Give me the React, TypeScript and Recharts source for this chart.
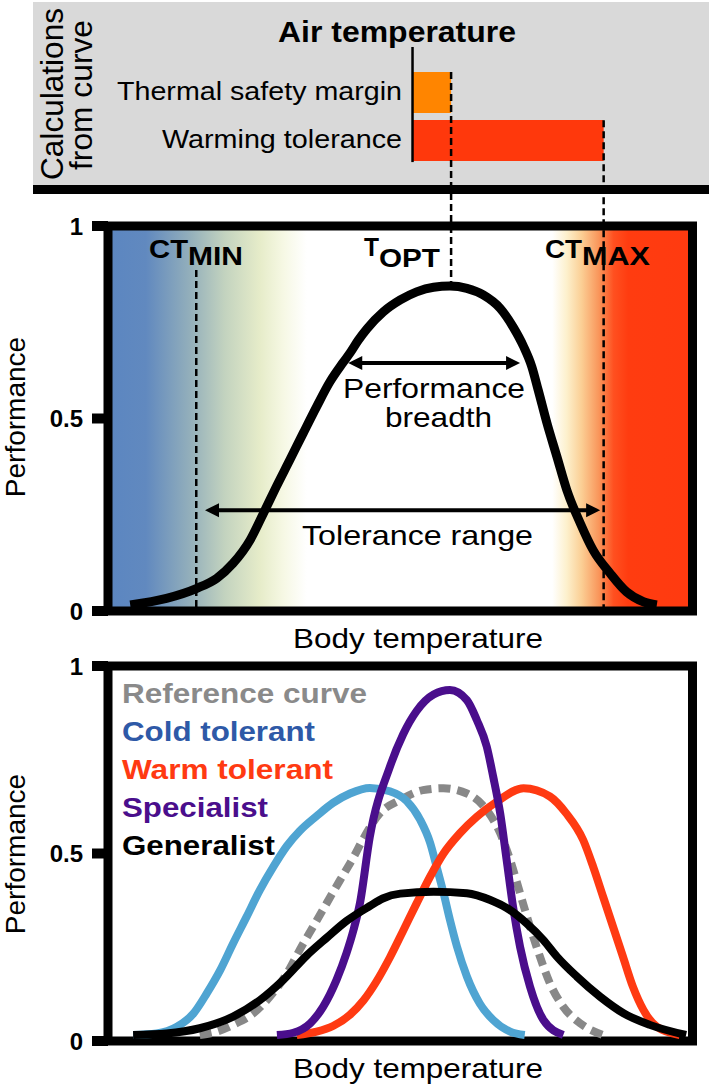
import React from 'react';
import {
  BarChart,
  Bar,
  Cell,
  ComposedChart,
  Line,
  XAxis,
  YAxis,
  ReferenceArea,
  ReferenceLine,
} from 'recharts';

const FONT = '"Liberation Sans", Arial, Helvetica, sans-serif';

// shared body-temperature axis (arbitrary units 0-100)
const CT_MIN = 15.1;
const T_OPT = 58.7;
const CT_MAX = 84.8;
const AIR_TEMP = 52.1;

// top panel: calculations from curve
const calcNames = ['Thermal safety margin', 'Warming tolerance'];
const calcEnds = [T_OPT, CT_MAX];
const calcColors = ['#ff8500', '#ff380c'];

// middle panel: thermal performance curve
const tpcTemp = [3.8, 10.0, 15.2, 18.6, 21.4, 24.3, 26.6, 28.8, 31.1, 33.4, 35.7, 38.0, 40.2, 41.4, 42.8, 44.3, 47.1, 50.0, 52.8, 55.7, 58.5, 61.4, 64.2, 67.1, 69.3, 71.1, 72.5, 73.6, 75.1, 76.8, 78.5, 80.8, 83.0, 85.9, 88.7, 91.6, 93.9];
const tpcPerf = [0.016, 0.033, 0.059, 0.085, 0.124, 0.184, 0.254, 0.323, 0.392, 0.462, 0.531, 0.596, 0.645, 0.67, 0.703, 0.733, 0.777, 0.808, 0.829, 0.841, 0.844, 0.838, 0.821, 0.786, 0.738, 0.687, 0.635, 0.574, 0.488, 0.401, 0.314, 0.228, 0.158, 0.098, 0.05, 0.024, 0.016];

// bottom panel: curve types
const refTemp = [15.7, 18.6, 21.4, 24.9, 27.7, 30.6, 32.8, 35.1, 37.4, 39.7, 42.0, 43.7, 46.5, 50.0, 53.9, 57.4, 61.4, 64.8, 67.1, 68.8, 70.5, 72.2, 73.9, 75.6, 77.9, 80.8, 84.7];
const refPerf = [0.016, 0.025, 0.043, 0.074, 0.118, 0.18, 0.243, 0.305, 0.367, 0.429, 0.49, 0.54, 0.607, 0.643, 0.669, 0.674, 0.66, 0.616, 0.554, 0.483, 0.394, 0.305, 0.225, 0.154, 0.091, 0.047, 0.016];

const coldTemp = [4.3, 8.3, 11.8, 14.6, 16.9, 19.2, 21.4, 23.7, 26.0, 28.3, 30.6, 32.8, 35.7, 38.5, 41.4, 44.8, 48.2, 51.1, 53.4, 55.1, 56.2, 57.4, 58.5, 59.7, 61.4, 63.6, 65.9, 68.8, 71.3];
const coldPerf = [0.016, 0.02, 0.038, 0.073, 0.127, 0.189, 0.26, 0.331, 0.403, 0.465, 0.52, 0.56, 0.6, 0.635, 0.66, 0.675, 0.666, 0.64, 0.59, 0.529, 0.466, 0.395, 0.323, 0.252, 0.172, 0.1, 0.056, 0.025, 0.016];

const warmTemp = [32.3, 35.7, 38.5, 41.4, 43.7, 45.9, 48.2, 50.5, 52.8, 55.1, 57.4, 60.2, 63.1, 66.5, 71.1, 75.6, 78.4, 81.3, 83.0, 84.7, 86.4, 88.1, 89.8, 91.6, 93.9, 97.8];
const warmPerf = [0.016, 0.025, 0.04, 0.07, 0.108, 0.158, 0.222, 0.294, 0.367, 0.438, 0.5, 0.554, 0.598, 0.638, 0.674, 0.652, 0.607, 0.536, 0.465, 0.385, 0.305, 0.225, 0.145, 0.083, 0.038, 0.016];

const specTemp = [28.9, 31.7, 34.6, 36.8, 39.1, 40.8, 42.0, 43.1, 44.8, 48.2, 50.5, 52.8, 55.7, 58.5, 61.4, 63.1, 64.8, 65.9, 67.1, 68.2, 69.3, 70.5, 72.2, 74.5, 77.9];
const specPerf = [0.016, 0.022, 0.047, 0.091, 0.163, 0.234, 0.296, 0.367, 0.545, 0.73, 0.818, 0.88, 0.924, 0.936, 0.909, 0.856, 0.785, 0.705, 0.607, 0.483, 0.358, 0.251, 0.145, 0.056, 0.016];

const genTemp = [4.3, 10.0, 15.7, 21.4, 26.0, 30.0, 34.0, 37.4, 40.8, 44.8, 47.0, 50.0, 55.7, 61.4, 65.4, 68.8, 71.6, 74.5, 76.8, 80.2, 84.2, 88.2, 92.7, 98.9];
const genPerf = [0.016, 0.02, 0.034, 0.065, 0.109, 0.163, 0.228, 0.275, 0.32, 0.36, 0.38, 0.393, 0.398, 0.394, 0.376, 0.349, 0.314, 0.269, 0.225, 0.172, 0.118, 0.074, 0.043, 0.016];

const toPoints = (temp: number[], perf: number[]) => temp.map((t, i) => ({ t, p: perf[i] }));

const calcData = calcNames.map((name, i) => ({ name, span: [AIR_TEMP, calcEnds[i]] }));
const tpcData = toPoints(tpcTemp, tpcPerf);

const curveSeries = [
  { name: 'Reference curve', data: toPoints(refTemp, refPerf), stroke: '#888888', text: '#8a8a8a', dash: '12 7' },
  { name: 'Cold tolerant', data: toPoints(coldTemp, coldPerf), stroke: '#4fa4d2', text: '#2e59a7', dash: undefined },
  { name: 'Warm tolerant', data: toPoints(warmTemp, warmPerf), stroke: '#ff3a12', text: '#ff3a12', dash: undefined },
  { name: 'Specialist', data: toPoints(specTemp, specPerf), stroke: '#4a0e8c', text: '#4a0e8c', dash: undefined },
  { name: 'Generalist', data: toPoints(genTemp, genPerf), stroke: '#000000', text: '#000000', dash: undefined },
];
const legendWidths = [245, 193, 211, 146, 153];

interface TxtProps {
  x: number;
  y: number;
  w?: number;
  size?: number;
  bold?: boolean;
  fill?: string;
  anchor?: 'start' | 'middle' | 'end';
  rotate?: boolean;
  children: React.ReactNode;
}

const Txt = ({ x, y, w, size = 28, bold = false, fill = '#000', anchor = 'start', rotate = false, children }: TxtProps) => (
  <text
    x={rotate ? 0 : x}
    y={rotate ? 0 : y}
    transform={rotate ? `translate(${x},${y}) rotate(-90)` : undefined}
    fontSize={size}
    fontWeight={bold ? 'bold' : 'normal'}
    fill={fill}
    textAnchor={anchor}
    fontFamily={FONT}
    textLength={w}
    lengthAdjust={w ? 'spacingAndGlyphs' : undefined}
  >
    {children}
  </text>
);

const DoubleArrow = (props: any) => {
  const { x1, y1, x2, y2 } = props;
  const head = 14;
  const half = 7;
  return (
    <g>
      <line x1={x1 + head - 1} y1={y1} x2={x2 - head + 1} y2={y2} stroke="#000" strokeWidth={4} />
      <polygon points={`${x1},${y1} ${x1 + head},${y1 - half} ${x1 + head},${y1 + half}`} fill="#000" />
      <polygon points={`${x2},${y2} ${x2 - head},${y2 - half} ${x2 - head},${y2 + half}`} fill="#000" />
    </g>
  );
};

const perfAxis = (
  <YAxis
    type="number"
    domain={[0, 1]}
    ticks={[0, 0.5, 1]}
    interval={0}
    width={100}
    axisLine={false}
    tickLine={{ stroke: '#000', strokeWidth: 10 }}
    tickSize={16}
    tickMargin={9}
    tick={{ fontSize: 24, fontWeight: 'bold', fill: '#000', fontFamily: FONT }}
  />
);

const dashed = { stroke: '#000', strokeWidth: 2.5, strokeDasharray: '7 4', ifOverflow: 'visible' as const };

const BOTTOM_TOP = 620;

export default function App() {
  return (
    <div style={{ position: 'absolute', left: 0, top: 0, width: 709, height: 1087, background: '#fff' }}>
      <div style={{ position: 'absolute', left: 33, top: 2, width: 676, height: 183, background: '#d9d9d9' }} />
      <div style={{ position: 'absolute', left: 33, top: 185, width: 676, height: 9, background: '#000' }} />

      {/* top panel */}
      <div style={{ position: 'absolute', left: 0, top: 0 }}>
        <BarChart
          width={709}
          height={195}
          layout="vertical"
          data={calcData}
          margin={{ top: 68, right: 16.5, bottom: 31, left: 108 }}
        >
          <XAxis type="number" domain={[0, 100]} hide />
          <YAxis type="category" dataKey="name" hide />
          <Bar dataKey="span" barSize={41} isAnimationActive={false}>
            {calcData.map((entry, index) => (
              <Cell key={`cell-${index}`} fill={calcColors[index]} />
            ))}
          </Bar>
        </BarChart>
      </div>

      {/* middle panel */}
      <div style={{ position: 'absolute', left: 0, top: 0 }}>
        <ComposedChart width={709} height={660} data={tpcData} margin={{ top: 226, right: 16.5, bottom: 49, left: 8 }}>
          <defs>
            <linearGradient id="thermalBg" x1="0" y1="0" x2="1" y2="0">
              <stop offset="0" stopColor="#5b86c1" />
              <stop offset="0.065" stopColor="#6189bf" />
              <stop offset="0.14" stopColor="#93afbb" />
              <stop offset="0.2" stopColor="#c3d3bf" />
              <stop offset="0.26" stopColor="#e6ecc9" />
              <stop offset="0.3" stopColor="#f6f8e4" />
              <stop offset="0.34" stopColor="#ffffff" />
              <stop offset="0.76" stopColor="#ffffff" />
              <stop offset="0.785" stopColor="#fdf0cc" />
              <stop offset="0.81" stopColor="#fbcf95" />
              <stop offset="0.84" stopColor="#f9955a" />
              <stop offset="0.865" stopColor="#ff5020" />
              <stop offset="0.89" stopColor="#ff3c10" />
              <stop offset="1" stopColor="#ff3a10" />
            </linearGradient>
          </defs>
          <XAxis type="number" dataKey="t" domain={[0, 100]} hide />
          {perfAxis}
          <ReferenceArea x1={0} x2={100} y1={0} y2={1} fill="url(#thermalBg)" fillOpacity={1} stroke="#000" strokeWidth={9} />
          <ReferenceLine segment={[{ x: AIR_TEMP, y: 1.465 }, { x: AIR_TEMP, y: 1.166 }]} stroke="#000" strokeWidth={2.5} ifOverflow="visible" />
          <ReferenceLine segment={[{ x: CT_MIN, y: 0.886 }, { x: CT_MIN, y: 0 }]} {...dashed} />
          <ReferenceLine segment={[{ x: T_OPT, y: 1.4 }, { x: T_OPT, y: 0.85 }]} {...dashed} />
          <ReferenceLine segment={[{ x: CT_MAX, y: 1.275 }, { x: CT_MAX, y: 0 }]} {...dashed} />
          <ReferenceLine segment={[{ x: 41.1, y: 0.644 }, { x: 70.5, y: 0.644 }]} shape={DoubleArrow} ifOverflow="visible" />
          <ReferenceLine segment={[{ x: 16.6, y: 0.262 }, { x: 84.2, y: 0.262 }]} shape={DoubleArrow} ifOverflow="visible" />
          <Line dataKey="p" type="monotone" stroke="#000" strokeWidth={9} dot={false} isAnimationActive={false} />
        </ComposedChart>
      </div>

      {/* bottom panel */}
      <div style={{ position: 'absolute', left: 0, top: BOTTOM_TOP }}>
        <ComposedChart width={709} height={467} margin={{ top: 46, right: 16.5, bottom: 46, left: 8 }}>
          <XAxis type="number" dataKey="t" domain={[0, 100]} hide />
          {perfAxis}
          <ReferenceArea x1={0} x2={100} y1={0} y2={1} fill="#fff" fillOpacity={1} stroke="#000" strokeWidth={9} />
          {curveSeries.map((s) => (
            <Line
              key={s.name}
              data={s.data}
              dataKey="p"
              name={s.name}
              type="monotone"
              stroke={s.stroke}
              strokeWidth={8}
              strokeDasharray={s.dash}
              dot={false}
              isAnimationActive={false}
            />
          ))}
        </ComposedChart>
      </div>

      {/* text layer */}
      <svg width={709} height={1087} style={{ position: 'absolute', left: 0, top: 0, pointerEvents: 'none' }}>
        <Txt x={63} y={94} w={172} size={32} rotate anchor="middle">Calculations</Txt>
        <Txt x={92} y={95} w={150} size={32} rotate anchor="middle">from curve</Txt>
        <Txt x={278} y={42} w={238} size={29} bold>Air temperature</Txt>
        <Txt x={402} y={100} w={285} size={25} anchor="end">{calcNames[0]}</Txt>
        <Txt x={402} y={148} w={240} size={25} anchor="end">{calcNames[1]}</Txt>

        <Txt x={149} y={258} w={39} size={25} bold>CT</Txt>
        <Txt x={188} y={265} w={55} size={25} bold>MIN</Txt>
        <Txt x={364} y={256} w={15} size={25} bold>T</Txt>
        <Txt x={379} y={267} w={61} size={26} bold>OPT</Txt>
        <Txt x={545} y={258} w={37} size={25} bold>CT</Txt>
        <Txt x={582} y={265} w={68} size={25} bold>MAX</Txt>
        <Txt x={343} y={398} w={182} size={28}>Performance</Txt>
        <Txt x={385} y={427} w={107} size={28}>breadth</Txt>
        <Txt x={302} y={545} w={231} size={28}>Tolerance range</Txt>
        <Txt x={25} y={417} size={28} rotate anchor="middle">Performance</Txt>
        <Txt x={293} y={648} w={250} size={28}>Body temperature</Txt>

        {curveSeries.map((s, i) => (
          <Txt key={s.name} x={122} y={BOTTOM_TOP + 83 + i * 38} w={legendWidths[i]} size={28} bold fill={s.text}>
            {s.name}
          </Txt>
        ))}
        <Txt x={25} y={BOTTOM_TOP + 234} size={28} rotate anchor="middle">Performance</Txt>
        <Txt x={293} y={BOTTOM_TOP + 458} w={250} size={28}>Body temperature</Txt>
      </svg>
    </div>
  );
}
